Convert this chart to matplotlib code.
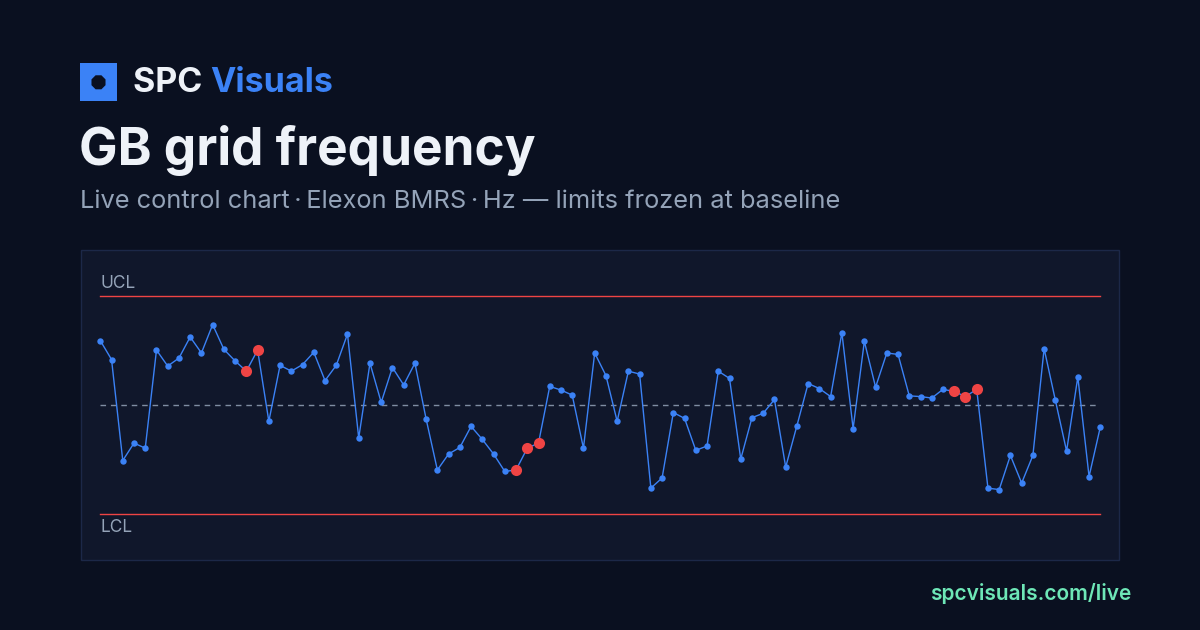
import numpy as np
import matplotlib
matplotlib.use("Agg")
import matplotlib.pyplot as plt
from matplotlib.patches import Rectangle, RegularPolygon

plt.rcParams['font.family'] = ['Inter', 'DejaVu Sans']

# grid frequency readings (Hz), one per sample
freq = [50.089, 50.063, 49.924, 49.948, 49.941, 50.076, 50.054, 50.065, 50.094, 50.072,
        50.111, 50.077, 50.061, 50.047, 50.076, 49.978, 50.055, 50.047, 50.056, 50.073,
        50.034, 50.055, 50.098, 49.955, 50.058, 50.004, 50.052, 50.028, 50.058, 49.981,
        49.911, 49.933, 49.942, 49.971, 49.953, 49.933, 49.909, 49.911, 49.941, 49.948,
        50.026, 50.021, 50.014, 49.941, 50.072, 50.041, 49.978, 50.047, 50.043, 49.886,
        49.900, 49.990, 49.982, 49.938, 49.944, 50.047, 50.037, 49.926, 49.983, 49.989,
        50.008, 49.915, 49.972, 50.030, 50.023, 50.012, 50.100, 49.968, 50.088, 50.025,
        50.072, 50.070, 50.013, 50.012, 50.010, 50.022, 50.019, 50.012, 50.022, 49.886,
        49.884, 49.931, 49.893, 49.931, 50.078, 50.007, 49.937, 50.039, 49.902, 49.970]
# samples flagged by run rules
flagged = [13, 14, 37, 38, 39, 76, 77, 78]

center = 50.0
ucl = 50.15
lcl = 49.85

BG = "#0a1020"
PANEL = "#10172b"
BLUE = "#3b82f6"
RED = "#ef4444"
GREY = "#94a3b8"

W, H = 1200, 630
fig = plt.figure(figsize=(12, 6.3), dpi=100, facecolor=BG)

def px(x, y):
    return x / W, 1 - y / H

# panel behind the chart
fig.patches.append(Rectangle(px(80.5, 560), 1039 / W, 310 / H, transform=fig.transFigure,
                             facecolor=PANEL, edgecolor="#1c2848", linewidth=1, zorder=-1))

# axes: index 0..89 spans x 100..1100, LCL..UCL spans y 514..296
l, b = px(100.3, 514.3)
ax = fig.add_axes([l, b, 1000 / W, 218 / H])
ax.set_facecolor("none")
ax.set_xlim(0, len(freq) - 1)
ax.set_ylim(lcl, ucl)
ax.axis("off")

ax.axhline(ucl, color=RED, lw=1, clip_on=False)
ax.axhline(lcl, color=RED, lw=1, clip_on=False)
ax.axhline(center, color=GREY, lw=1, ls=(0, (4, 3.5)), alpha=0.85, clip_on=False)

x = np.arange(len(freq))
y = np.array(freq)
ax.plot(x, y, color=BLUE, lw=1, marker="o", ms=4.6, mec="none", clip_on=False, zorder=3)
ax.plot(x[flagged], y[flagged], ls="none", color=RED, marker="o", ms=8, mec="none",
        clip_on=False, zorder=4)

ax.text(0, ucl + 0.006, "UCL", color=GREY, fontsize=12.5, va="bottom", ha="left")
ax.text(0, lcl - 0.006, "LCL", color=GREY, fontsize=12.5, va="top", ha="left")

# header
fig.patches.append(Rectangle(px(80, 100.5), 37 / W, 37 / H, transform=fig.transFigure,
                             facecolor=BLUE, edgecolor="none"))
fig.patches.append(RegularPolygon((98.5, H - 82.3), numVertices=8, radius=7.6,
                                  orientation=np.pi / 8, transform=None,
                                  facecolor=BG, edgecolor="none"))
t = fig.text(*px(133, 92), "SPC ", color="#eef2f8", fontsize=24.5, fontweight="bold", va="baseline")
fig.canvas.draw()
bb = t.get_window_extent()
fig.text(bb.x1 / W, 1 - 92 / H, "Visuals", color=BLUE, fontsize=24.5, fontweight="bold", va="baseline")

fig.text(*px(79, 165), "GB grid frequency", color="#eef2f8", fontsize=37,
         fontweight="bold", va="baseline")
fig.text(*px(80, 208), "Live control chart\u2009·\u2009Elexon BMRS\u2009·\u2009Hz \u2014 limits frozen at baseline",
         color=GREY, fontsize=18.3, va="baseline")

fig.text(*px(1131, 600), "spcvisuals.com/live", color="#6ee7b7", fontsize=15,
         fontweight="semibold", ha="right", va="baseline")

fig.savefig("out.png", dpi=100, facecolor=BG)
